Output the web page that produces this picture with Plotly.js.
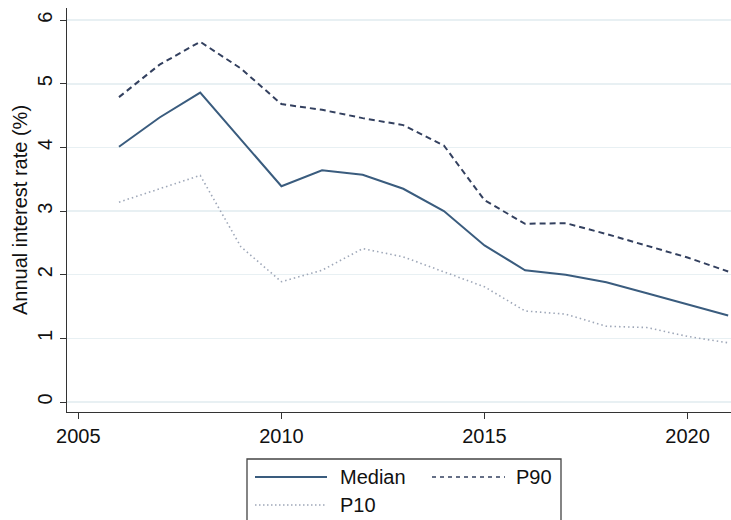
<!DOCTYPE html>
<html><head><meta charset="utf-8">
<script src="https://cdn.plot.ly/plotly-3.0.1.min.js"></script>
<style>html,body{margin:0;padding:0;background:#fff}#chart{width:731px;height:520px}</style>
</head><body><div id="chart"></div>
<script>
const years = [2006,2007,2008,2009,2010,2011,2012,2013,2014,2015,2016,2017,2018,2019,2020,2021];
const median = [4.01,4.47,4.86,4.12,3.39,3.64,3.57,3.35,3.00,2.46,2.07,2.00,1.88,1.71,1.53,1.36];
const p90 = [4.79,5.30,5.66,5.24,4.68,4.59,4.46,4.35,4.03,3.17,2.80,2.81,2.64,2.46,2.27,2.05];
const p10 = [3.14,3.35,3.56,2.44,1.89,2.07,2.41,2.28,2.05,1.81,1.43,1.38,1.19,1.17,1.03,0.93];
const seriesNames = ['Median','P90','P10'];

const L = 67, T = 8, W = 664, H = 404;
const px = x => (x - L) / W;
const py = y => (T + H - y) / H;
const font = {family:'Liberation Sans, Arial, sans-serif', size:20, color:'#111'};

const cMed = '#3a5c7e', cP90 = '#33405f', cP10 = '#9ea7b8';
const dP90 = '6px,4px', dP10 = '1.5px,3px';

const traces = [
  {x:years, y:median, name:seriesNames[0], mode:'lines', line:{color:cMed, width:2}},
  {x:years, y:p90, name:seriesNames[1], mode:'lines', line:{color:cP90, width:2, dash:dP90}},
  {x:years, y:p10, name:seriesNames[2], mode:'lines', line:{color:cP10, width:1.6, dash:dP10}}
];

const shapes = [
  {type:'rect', xref:'paper', yref:'paper', x0:px(247), x1:px(561), y0:py(545), y1:py(459), line:{color:'#444', width:1.3}, fillcolor:'rgba(0,0,0,0)'},
  {type:'line', xref:'paper', yref:'paper', x0:px(255), x1:px(327), y0:py(477), y1:py(477), line:{color:cMed, width:2}},
  {type:'line', xref:'paper', yref:'paper', x0:px(432), x1:px(505), y0:py(477), y1:py(477), line:{color:cP90, width:1.6, dash:'4px,4px'}},
  {type:'line', xref:'paper', yref:'paper', x0:px(255), x1:px(327), y0:py(505), y1:py(505), line:{color:cP10, width:1.4, dash:'1.5px,2.5px'}}
];
const annotations = [
  {xref:'paper', yref:'paper', x:px(338), y:py(477), text:seriesNames[0], showarrow:false, xanchor:'left', yanchor:'middle', font:font},
  {xref:'paper', yref:'paper', x:px(514), y:py(477), text:seriesNames[1], showarrow:false, xanchor:'left', yanchor:'middle', font:font},
  {xref:'paper', yref:'paper', x:px(338), y:py(505), text:seriesNames[2], showarrow:false, xanchor:'left', yanchor:'middle', font:font}
];

const layout = {
  width:731, height:520,
  margin:{l:L, r:0, t:T, b:520-T-H},
  paper_bgcolor:'#fff', plot_bgcolor:'#fff',
  showlegend:false,
  font:font,
  xaxis:{range:[2004.72, 2021.07], tickvals:[2005,2010,2015,2020], ticks:'outside', ticklen:6, tickcolor:'#333',
         showline:true, linecolor:'#333', linewidth:1.3, showgrid:false, zeroline:false, tickfont:font},
  yaxis:{range:[-0.157, 6.19], tickvals:[0,1,2,3,4,5,6], ticks:'outside', ticklen:6, tickcolor:'#333', tickangle:-90,
         showline:true, linecolor:'#333', linewidth:1.3, showgrid:true, gridcolor:'#e8f0f3', gridwidth:1.5, zeroline:false,
         tickfont:font, title:{text:'Annual interest rate (%)', font:font, standoff:0}},
  shapes:shapes, annotations:annotations
};
Plotly.newPlot('chart', traces, layout, {displayModeBar:false, staticPlot:true});
</script></body></html>
